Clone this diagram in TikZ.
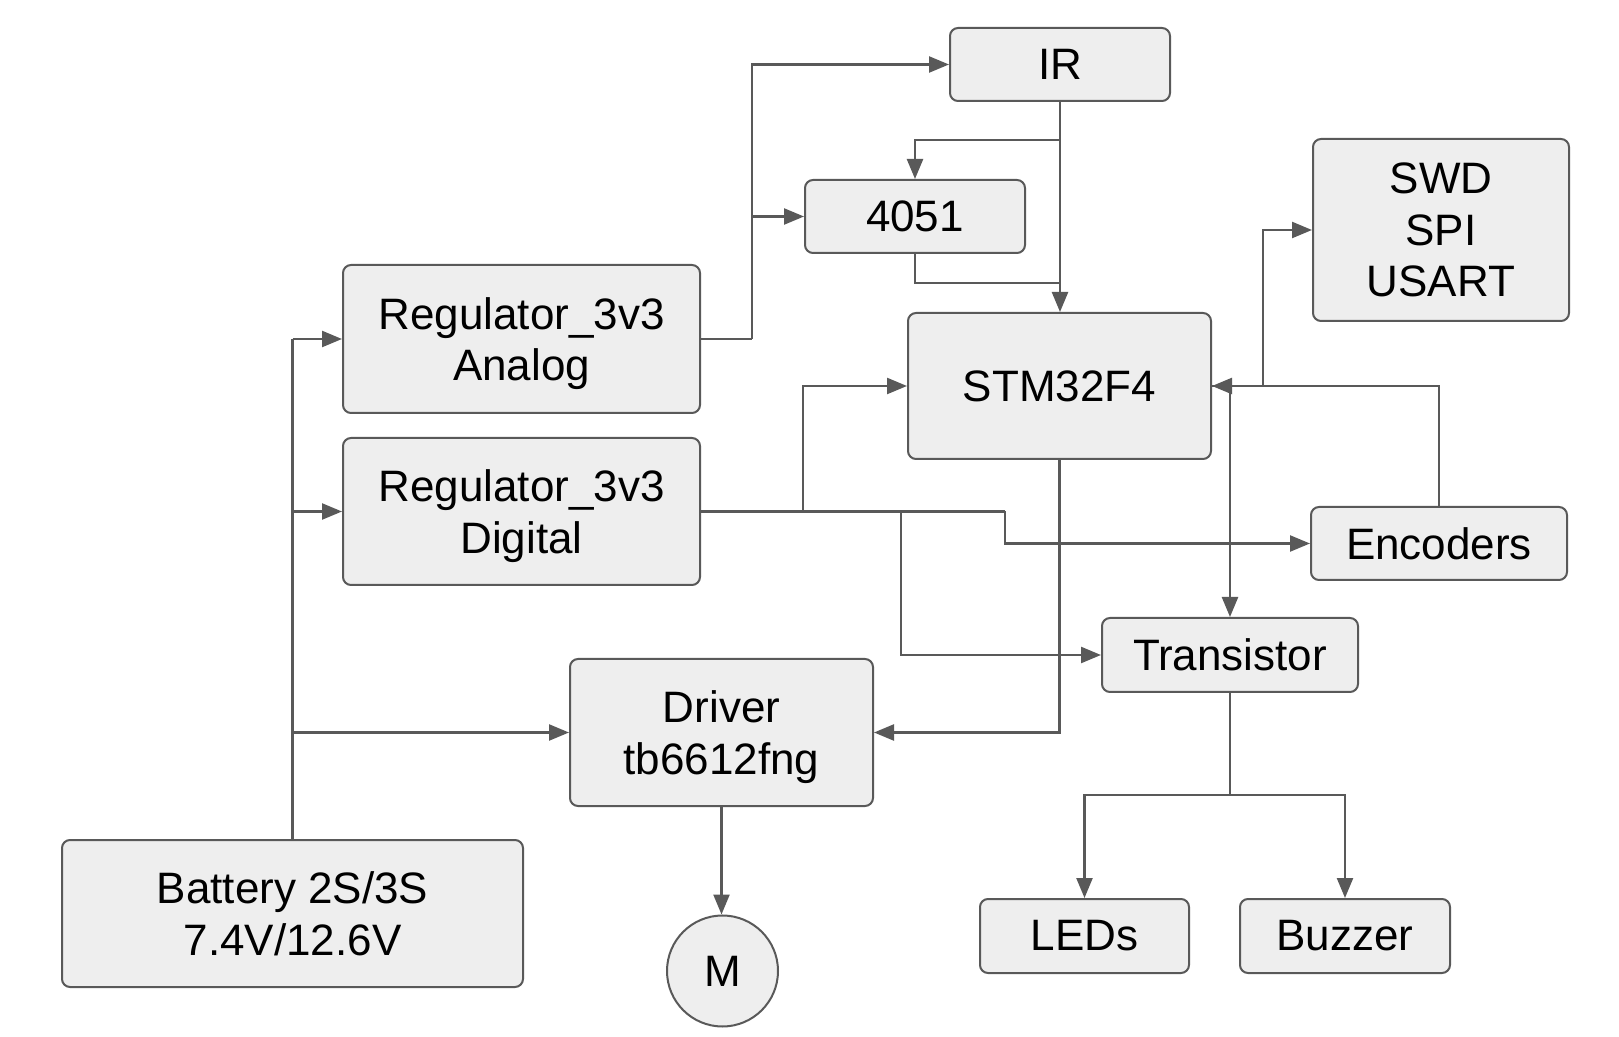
\documentclass[tikz,border=0pt]{standalone}
\usepackage{fontspec}
\setmainfont{Liberation Sans}
\usetikzlibrary{arrows.meta}
\definecolor{boxgray}{HTML}{EEEEEE}
\definecolor{linegray}{HTML}{595959}
\newcommand{\nodepth}[1]{\raisebox{0pt}[\height][0pt]{#1}}
\begin{document}
\begin{tikzpicture}[x=0.5pt, y=-0.5pt,
		block/.style={draw=linegray, fill=boxgray, rounded corners=4pt, line width=1pt,
			align=center, inner sep=0pt, font=\fontsize{22}{25.8}\selectfont},
		wire/.style={draw=linegray, line width=1.2pt},
		>={Triangle[length=10pt,width=8pt]}]
		\useasboundingbox (0,0) rectangle (1619,1037);
		
		% blocks
		\node[block, minimum width=110pt, minimum height=36.5pt] at (1060,64.5) (ir) {IR};
		\node[block, minimum width=110pt, minimum height=36.5pt] at (915,216.5) (mux) {4051};
		\node[block, minimum width=128pt, minimum height=91pt] at (1441,230) (swd) {SWD\\SPI\\USART};
		\node[block, minimum width=178.5pt, minimum height=74pt] at (521.5,339) (rega) {Regulator\_3v3\\\nodepth{Analog}};
		\node[block, minimum width=151.5pt, minimum height=73pt] at (1059.5,386) (stm) {STM32F4};
		\node[block, minimum width=178.5pt, minimum height=73.5pt] at (521.5,511.5) (regd) {Regulator\_3v3\\\nodepth{Digital}};
		\node[block, minimum width=128pt, minimum height=36.5pt] at (1439,543.5) (enc) {Encoders};
		\node[block, minimum width=128pt, minimum height=37pt] at (1230,655) (trans) {Transistor};
		\node[block, minimum width=151.5pt, minimum height=73.5pt] at (721.5,732.5) (drv) {Driver\\\nodepth{tb6612fng}};
		\node[block, minimum width=230.5pt, minimum height=73.5pt] at (292.5,913.5) (bat) {Battery 2S/3S\\7.4V/12.6V};
		\node[block, circle, minimum size=55.5pt] at (722.5,971) (motor) {M};
		\node[block, minimum width=104.5pt, minimum height=37pt] at (1084.5,936) (leds) {LEDs};
		\node[block, minimum width=105pt, minimum height=37pt] at (1345,936) (buzz) {Buzzer};
		
		% bend points
		\coordinate (pwr) at (292.5,339);
		\coordinate (abus) at (752,339);
		\coordinate (irsplit) at (1060,140);
		\coordinate (muxjoin) at (1060,283);
		\coordinate (dbus1) at (803,511.5);
		\coordinate (dbus2) at (901,511.5);
		\coordinate (dbus3) at (1005,511.5);
		\coordinate (swdsplit) at (1263,386);
		\coordinate (tsplit) at (1230,795);
		
		% battery
		\draw[wire] (bat.north) -- (pwr);
		\draw[wire,->] (pwr) -- (rega.west);
		\draw[wire,->] (pwr |- regd.west) -- (regd.west);
		\draw[wire,->] (pwr |- drv.west) -- (drv.west);
		
		% analog supply
		\draw[wire] (rega.east) -- (abus);
		\draw[wire,->] (abus) |- (ir.west);
		\draw[wire,->] (abus |- mux.west) -- (mux.west);
		
		% sensors
		\draw[wire,->] (ir.south) -- (ir.south |- stm.north);
		\draw[wire,->] (irsplit) -| (mux.north);
		\draw[wire] (mux.south) |- (muxjoin);
		
		% digital supply
		\draw[wire] (regd.east) -- (dbus3);
		\draw[wire,->] (dbus3) |- (enc.west);
		\draw[wire,->] (dbus1) |- (stm.west);
		\draw[wire,->] (dbus2) |- (trans.west);
		
		% microcontroller
		\draw[wire,->] (stm.south) |- (drv.east);
		\draw[wire,->] (stm.east) -| (trans.north);
		\draw[wire,->] (enc.north) |- (stm.east);
		\draw[wire,->] (swdsplit) |- (swd.west);
		
		% outputs
		\draw[wire] (trans.south) -- (tsplit);
		\draw[wire,->] (tsplit) -| (leds.north);
		\draw[wire,->] (tsplit) -| (buzz.north);
		\draw[wire,->] (drv.south) -- (drv.south |- motor.north);
\end{tikzpicture}
\end{document}
